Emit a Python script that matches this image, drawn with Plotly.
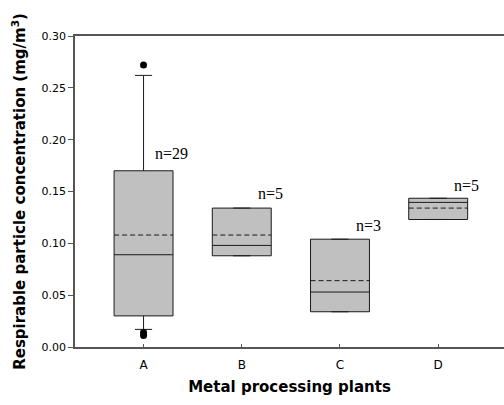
import plotly.graph_objects as go

categories = ["A", "B", "C", "D"]
q1 = [0.030, 0.088, 0.034, 0.123]
median = [0.089, 0.098, 0.053, 0.1395]
q3 = [0.170, 0.134, 0.104, 0.1435]
mean = [0.108, 0.108, 0.064, 0.134]
lowerfence = [0.017, 0.088, 0.034, 0.123]
upperfence = [0.262, 0.134, 0.104, 0.1435]
outlier_cat = ["A", "A", "A"]
outlier_val = [0.272, 0.011, 0.014]
n_labels = ["n=29", "n=5", "n=3", "n=5"]
n_label_y = [0.187, 0.148, 0.117, 0.156]

pos = list(range(len(categories)))
cat_pos = {c: i for i, c in enumerate(categories)}
box_w = 0.6

fig = go.Figure()
fig.add_trace(go.Box(
    x=pos, q1=q1, median=median, q3=q3,
    lowerfence=lowerfence, upperfence=upperfence,
    width=box_w, whiskerwidth=0.29,
    fillcolor="#c0c0c0",
    line=dict(color="#1a1a1a", width=1),
    boxpoints=False, showlegend=False, hoverinfo="skip",
))

mx, my = [], []
for i, m in enumerate(mean):
    mx += [i - box_w / 2, i + box_w / 2, None]
    my += [m, m, None]
fig.add_trace(go.Scatter(
    x=mx, y=my, mode="lines",
    line=dict(color="#1a1a1a", width=1, dash="5px,3px"),
    showlegend=False, hoverinfo="skip",
))
fig.add_trace(go.Scatter(
    x=[cat_pos[c] for c in outlier_cat], y=outlier_val, mode="markers",
    marker=dict(color="black", size=7), showlegend=False, hoverinfo="skip",
))

for i, (lab, yv) in enumerate(zip(n_labels, n_label_y)):
    fig.add_annotation(
        x=i + 0.1 if i == 0 else i + 0.142, y=yv, text=lab, showarrow=False,
        xanchor="left", yanchor="middle",
        font=dict(family="Liberation Serif", size=16, color="black"),
    )

fig.update_layout(
    width=504, height=405,
    margin=dict(l=75, r=0, t=36, b=58),
    plot_bgcolor="white", paper_bgcolor="white",
    font=dict(family="DejaVu Sans", size=11, color="black"),
    xaxis=dict(
        range=[-0.698, 3.67], tickvals=pos, ticktext=categories,
        tickfont=dict(size=12),
        showgrid=False, zeroline=False, showline=True, linecolor="#555",
        linewidth=1.5, mirror=True, ticks="inside", ticklen=3, tickcolor="#555",
        automargin=False, ticklabelstandoff=6,
        title=dict(text="<b>Metal processing plants</b>",
                   font=dict(family="DejaVu Sans", size=15), standoff=10),
    ),
    yaxis=dict(
        range=[0, 0.30], tickvals=[0, 0.05, 0.10, 0.15, 0.20, 0.25, 0.30],
        tickformat=".2f", showgrid=False, zeroline=False, showline=True,
        linecolor="#555", linewidth=1.5, ticks="outside", ticklen=5,
        tickcolor="#555", automargin=False,
        title=dict(text="<b>Respirable particle concentration (mg/m<sup>3</sup>)</b>",
                   font=dict(family="DejaVu Sans", size=15), standoff=12),
    ),
)

fig.write_html(
    "out.html",
    config={"displayModeBar": False},
    post_script="document.body.style.margin='0';document.body.style.overflow='hidden';",
)
